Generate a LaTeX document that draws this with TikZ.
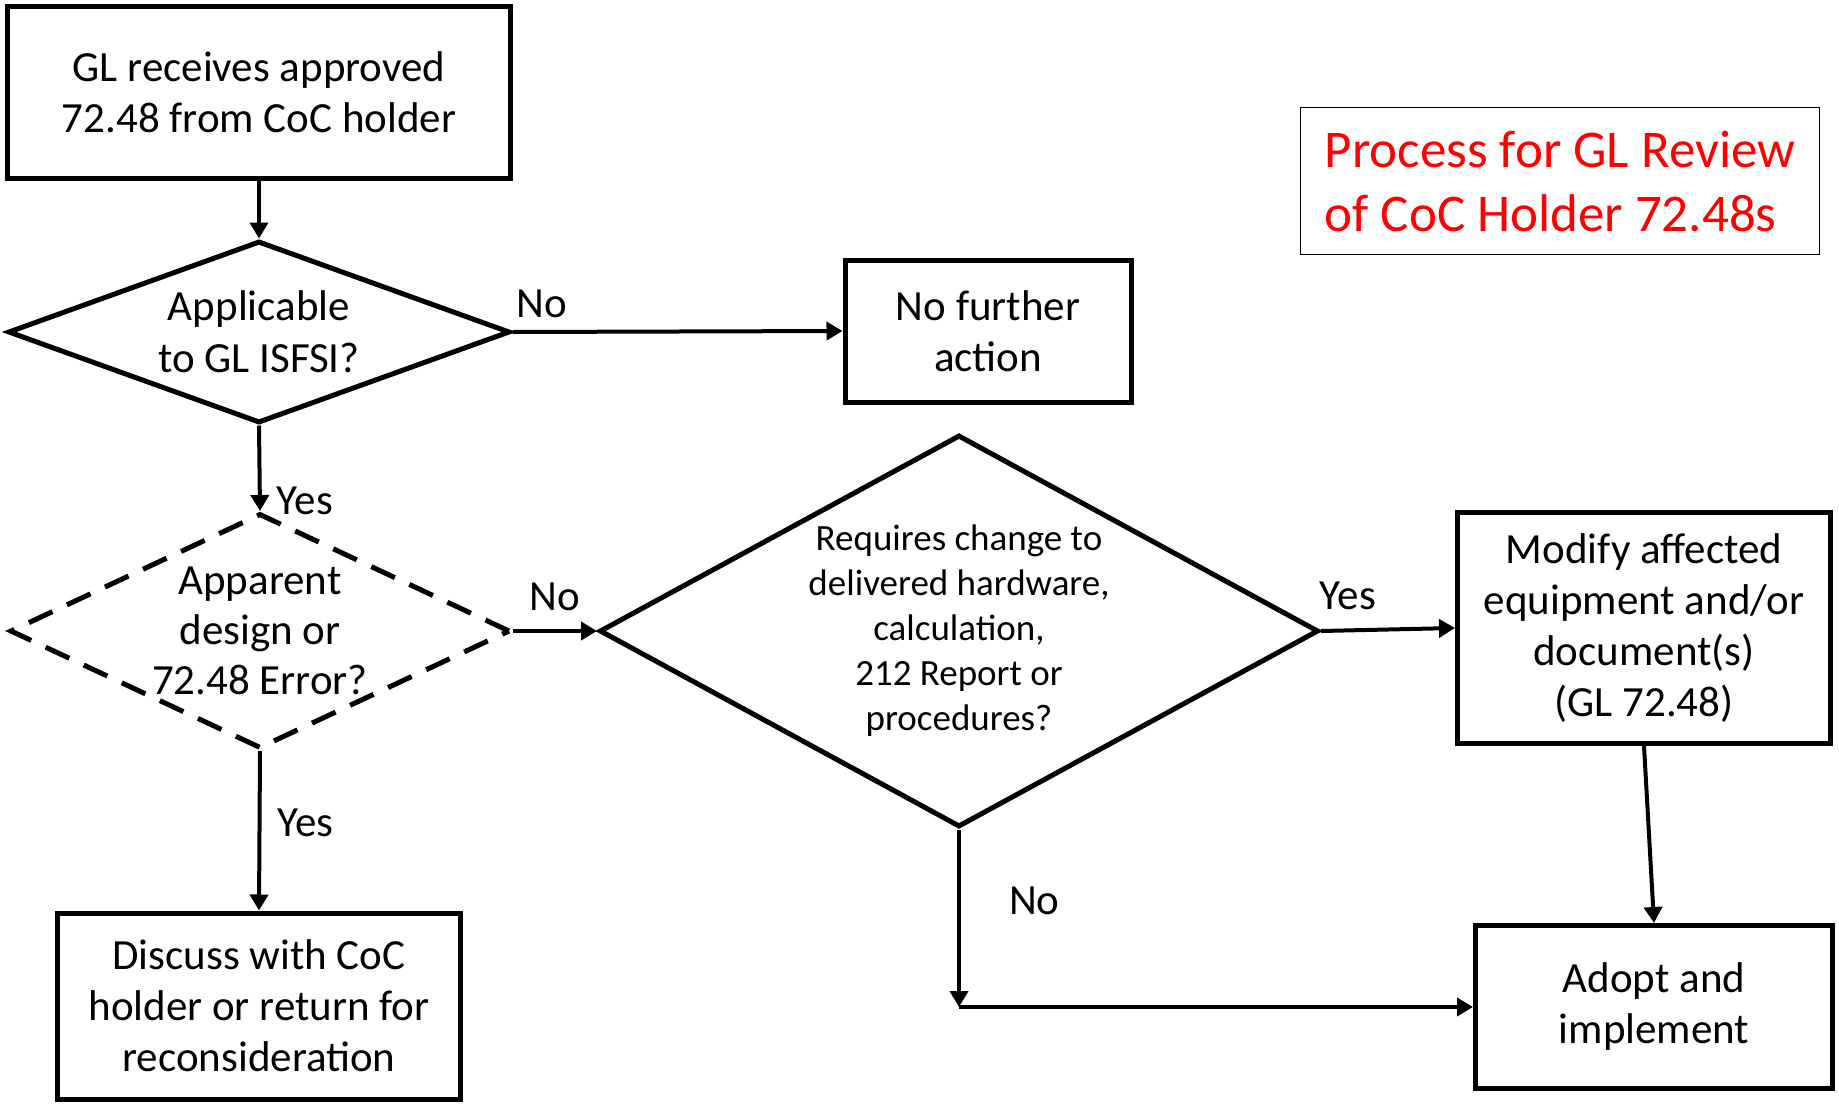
\documentclass[tikz,border=0pt]{standalone}
\usepackage{fontspec}
\setmainfont{Carlito}
\usetikzlibrary{shapes.geometric,arrows.meta,positioning}

\tikzset{
  stepbox/.style={draw, line width=5pt, align=center, inner sep=0pt,
    font=\fontsize{43}{51}\selectfont},
  decision/.style={draw, diamond, line width=5pt, align=center, inner sep=0pt},
  flow/.style={line width=4pt, -{Triangle[length=16pt,width=18pt]}},
  lbl/.style={font=\fontsize{43}{51}\selectfont, inner sep=2pt}
}

\begin{document}
\begin{tikzpicture}[x=1pt,y=-1pt]
  \useasboundingbox (0,0) rectangle (1839,1106);

  % boxes
  \node[stepbox, minimum width=503pt, minimum height=172pt] (receive) at (259,92)
    {GL receives approved\\72.48 from CoC holder};
  \node[stepbox, minimum width=286pt, minimum height=142pt] (nofurther) at (988,331)
    {No further\\action};
  \node[stepbox, minimum width=373pt, minimum height=231pt] (modify) at (1644,628)
    {Modify affected\\equipment and/or\\document(s)\\(GL 72.48)};
  \node[stepbox, minimum width=403pt, minimum height=186pt] (discuss) at (259,1006)
    {Discuss with CoC\\holder or return for\\reconsideration};
  \node[stepbox, minimum width=357pt, minimum height=163pt] (adopt) at (1654,1007)
    {Adopt and\\implement};

  % title
  \node[draw, line width=1.5pt, minimum width=519pt, minimum height=147pt,
    align=left, text=red, font=\fontsize{53}{64}\selectfont] (title) at (1560,181)
    {Process for GL Review\\of CoC Holder 72.48s};

  % decisions
  \node[decision, minimum width=502pt, minimum height=182pt, shape aspect=2.7,
    font=\fontsize{43}{52}\selectfont] (applic) at (259,332)
    {Applicable\\to GL ISFSI?};
  \node[decision, dash pattern=on 26pt off 16pt, minimum width=500pt, minimum height=235pt,
    shape aspect=2.1, font=\fontsize{43}{50}\selectfont] (error) at (260,631)
    {Apparent\\design or\\72.48 Error?};
  \node[decision, minimum width=719pt, minimum height=392pt, shape aspect=1.82,
    font=\fontsize{37}{45}\selectfont] (change) at (959,631)
    {Requires change to\\delivered hardware,\\calculation,\\212 Report or\\procedures?};

  % connectors
  \draw[flow] (receive) -- (applic);
  \draw[flow] (applic.east) -- (nofurther.west)
    node[lbl, pos=0, above right, yshift=10pt] (lno1) {No};
  \draw[flow] (applic.south) -- (error.north)
    node[lbl, pos=0.85, right=13pt, yshift=-3pt] (lyes1) {Yes};
  \draw[flow] (error.east) -- (change.west)
    node[lbl, pos=0.5, above=16pt] (lno2) {No};
  \draw[flow] (change.east) -- (modify.west)
    node[lbl, pos=0.2, above=17pt] (lyes2) {Yes};
  \draw[flow] (error.south) -- (discuss.north)
    node[lbl, pos=0.45, right=14pt] (lyes3) {Yes};
  \coordinate (turn) at (change.south |- adopt.west);
  \draw[flow] (change.south) -- (turn)
    node[lbl, pos=0.4, right=46pt] (lno3) {No};
  \draw[flow] (turn) -- (adopt.west);
  \draw[flow] (modify.south) -- (adopt.north);

\end{tikzpicture}
\end{document}
